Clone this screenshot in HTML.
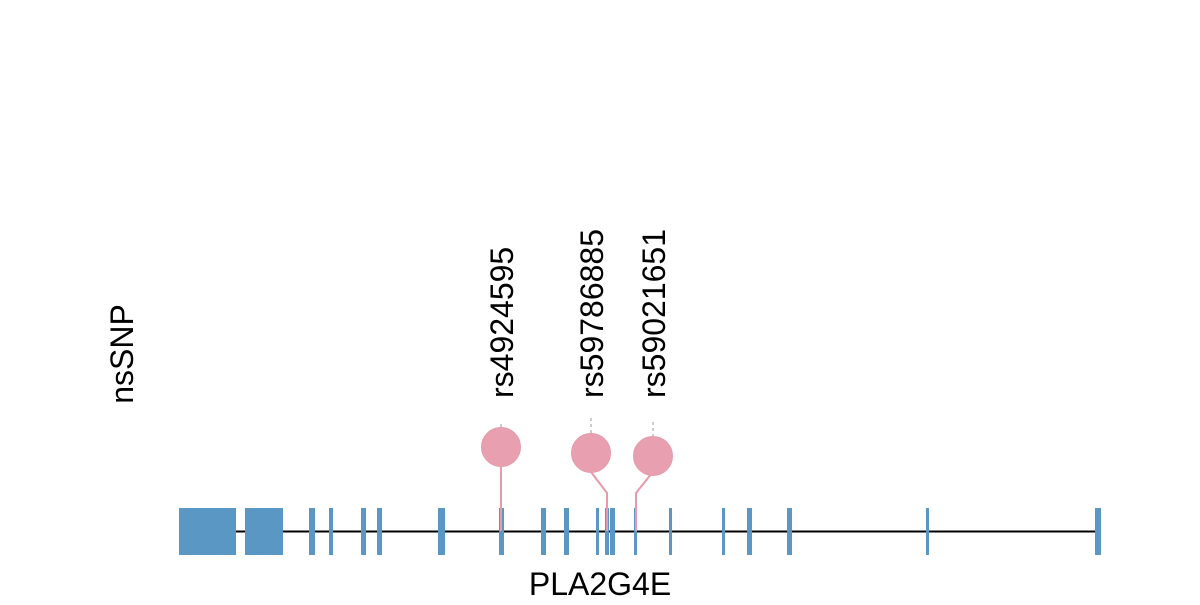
<!DOCTYPE html>
<html><head><style>html,body{margin:0;padding:0;background:#fff;}</style></head>
<body>
<svg width="1200" height="600" xmlns="http://www.w3.org/2000/svg" font-family="Liberation Sans, Arial, sans-serif">
<rect width="1200" height="600" fill="#fff"/>
<line x1="179" y1="531.5" x2="1101" y2="531.5" stroke="#000" stroke-width="2"/>
<g fill="#5b97c4">
<rect x="179" y="508" width="57" height="47"/>
<rect x="245" y="508" width="38" height="47"/>
<rect x="309" y="508" width="6" height="47"/>
<rect x="329" y="508" width="4" height="47"/>
<rect x="361" y="508" width="5" height="47"/>
<rect x="377" y="508" width="5" height="47"/>
<rect x="438" y="508" width="7" height="47"/>
<rect x="499" y="508" width="5" height="47"/>
<rect x="541" y="508" width="5" height="47"/>
<rect x="564" y="508" width="5" height="47"/>
<rect x="596" y="508" width="3" height="47"/>
<rect x="605" y="508" width="4" height="47"/>
<rect x="610" y="508" width="5" height="47"/>
<rect x="634" y="508" width="3" height="47"/>
<rect x="669" y="508" width="3" height="47"/>
<rect x="722" y="508" width="3" height="47"/>
<rect x="747" y="508" width="5" height="47"/>
<rect x="787" y="508" width="5" height="47"/>
<rect x="926" y="508" width="3" height="47"/>
<rect x="1095" y="508" width="6" height="47"/>
</g>
<g stroke="#e89aac" stroke-width="2" fill="none">
<polyline points="501,466 501,531"/>
<polyline points="591,472 607,493 607,531"/>
<polyline points="652,473 636,493 636,531"/>
</g>
<g stroke="#bbb" stroke-width="1.5" stroke-dasharray="3,3">
<line x1="501" y1="424" x2="501" y2="428"/>
<line x1="591" y1="418" x2="591" y2="433"/>
<line x1="653" y1="422" x2="653" y2="436"/>
</g>
<g fill="#e8a0b0" stroke="#e59aab" stroke-width="1">
<circle cx="501" cy="447" r="19.5"/>
<circle cx="591" cy="453" r="19.5"/>
<circle cx="653" cy="456" r="19.5"/>
</g>
<g font-size="32" fill="#000">
<text transform="translate(513,398) rotate(-90)">rs4924595</text>
<text transform="translate(603,398) rotate(-90)">rs59786885</text>
<text transform="translate(665,398) rotate(-90)">rs59021651</text>
<text transform="translate(133,354) rotate(-90)" text-anchor="middle">nsSNP</text>
<text x="600" y="595" text-anchor="middle">PLA2G4E</text>
</g>
</svg>
</body></html>
